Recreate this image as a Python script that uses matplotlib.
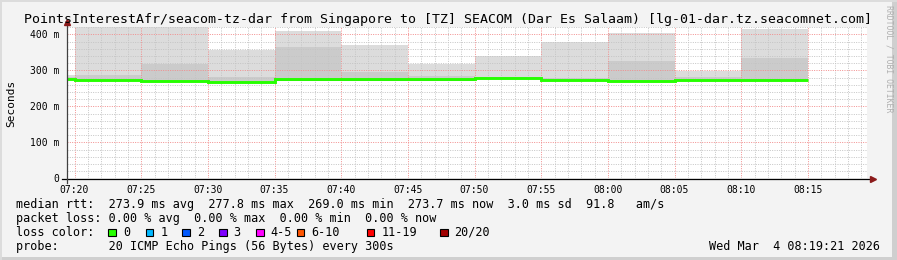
import matplotlib
matplotlib.use("Agg")
import matplotlib.pyplot as plt
from matplotlib.patches import Rectangle
from matplotlib.lines import Line2D
from matplotlib.ticker import MultipleLocator, FixedLocator, FixedFormatter

# ---------------- data (time in minutes after 07:00, values in ms) ----------------
block_edges_min = [15, 20, 25, 30, 35, 40, 45, 50, 55, 60, 65, 70, 75]
median_ms    = [276.5, 274.5, 272.0, 269.0, 276.0, 275.5, 275.0, 277.8, 273.5, 272.0, 272.5, 273.7]
ping_min_ms  = [276.0, 273.5, 268.5, 268.0, 271.0, 272.0, 272.0, 277.0, 273.0, 271.0, 272.0, 273.0]
smoke_mid_ms = [283.0, 287.0, 319.0, 282.0, 366.0, 296.0, 284.0, 282.0, 280.0, 327.0, 283.0, 335.0]
smoke_max_ms = [287.0, 430.0, 430.0, 358.0, 410.0, 370.0, 319.0, 340.0, 380.0, 405.0, 299.0, 415.0]

xtick_minutes = [20, 25, 30, 35, 40, 45, 50, 55, 60, 65, 70, 75]
xtick_labels = ["07:20", "07:25", "07:30", "07:35", "07:40", "07:45",
                "07:50", "07:55", "08:00", "08:05", "08:10", "08:15"]
ytick_values = [0, 100, 200, 300, 400]
ytick_labels = ["0", "100 m", "200 m", "300 m", "400 m"]

title = "PointsInterestAfr/seacom-tz-dar from Singapore to [TZ] SEACOM (Dar Es Salaam) [lg-01-dar.tz.seacomnet.com]"
legend_rows = [
    "median rtt:  273.9 ms avg  277.8 ms max  269.0 ms min  273.7 ms now  3.0 ms sd  91.8   am/s",
    "packet loss: 0.00 % avg  0.00 % max  0.00 % min  0.00 % now",
    "loss color:",
    "probe:       20 ICMP Echo Pings (56 Bytes) every 300s",
]
loss_labels = ["0", "1", "2", "3", "4-5", "6-10", "11-19", "20/20"]
loss_colors = ["#26ff00", "#00b8ff", "#0059ff", "#7e00ff", "#ff00ff", "#ff5500", "#ff0000", "#a10000"]
timestamp = "Wed Mar  4 08:19:21 2026"

# ---------------- layout ----------------
W, H = 897, 260
fig = plt.figure(figsize=(W / 100, H / 100), dpi=100)
fig.patch.set_facecolor("#f3f3f3")

px_left, px_right, px_top, px_bottom = 67, 867, 27.3, 178.4
ax = fig.add_axes([px_left / W, 1 - px_bottom / H, (px_right - px_left) / W, (px_bottom - px_top) / H])
ax.set_facecolor("white")
ax.set_xlim(19.4375, 79.4375)
ax.set_ylim(0, 420)

mono = "DejaVu Sans Mono"

# smoke
ax.stairs(smoke_max_ms, block_edges_min, baseline=ping_min_ms, fill=True,
          color="#dcdcdc", zorder=1, linewidth=0)
ax.stairs(smoke_mid_ms, block_edges_min, baseline=ping_min_ms, fill=True,
          color="#cbcbcb", zorder=1.1, linewidth=0)
ax.stairs(median_ms, block_edges_min, baseline=ping_min_ms, fill=True,
          color="#555555", zorder=1.2, linewidth=0)

# grid
ax.xaxis.set_major_locator(FixedLocator(xtick_minutes))
ax.xaxis.set_major_formatter(FixedFormatter(xtick_labels))
ax.xaxis.set_minor_locator(MultipleLocator(1))
ax.yaxis.set_major_locator(FixedLocator(ytick_values))
ax.yaxis.set_major_formatter(FixedFormatter(ytick_labels))
ax.yaxis.set_minor_locator(MultipleLocator(20))
ax.set_axisbelow(False)
ax.grid(which="minor", color="#c4c4c4", linestyle=(0, (1, 1.4)), linewidth=0.7, zorder=2)
ax.grid(which="major", color="#f28c8c", linestyle=(0, (1, 1.4)), linewidth=0.7, zorder=2.1)

# median line (loss 0 colour)
ax.stairs(median_ms, block_edges_min, baseline=None, color=loss_colors[0],
          linewidth=2.1, zorder=3)

for s in ax.spines.values():
    s.set_visible(False)

ax.tick_params(axis="both", which="both", length=0)
ax.tick_params(axis="x", which="major", labelsize=7, pad=4.5)
ax.tick_params(axis="y", which="major", labelsize=7, pad=5.5)
for lab in ax.get_xticklabels() + ax.get_yticklabels():
    lab.set_family(mono)

# axes lines with arrows (pixel coordinates -> figure fraction)
def fx(x):
    return x / W

def fy(y):
    return 1 - y / H

fig.add_artist(Line2D([fx(62), fx(871)], [fy(178.6), fy(178.6)], color="black", linewidth=0.9))
fig.add_artist(Line2D([fx(66.8), fx(66.8)], [fy(183), fy(22)], color="#404040", linewidth=0.9))
fig.add_artist(Line2D([fx(873)], [fy(178.6)], marker=">", markersize=4.2, color="#8b1a1a",
                      linestyle="none"))
fig.add_artist(Line2D([fx(66.8)], [fy(21.5)], marker="^", markersize=4.2, color="#8b1a1a",
                      linestyle="none"))

# title / labels
fig.text(fx(447.5), fy(19), title, ha="center", va="center", family=mono, fontsize=9.5, color="black")
fig.text(fx(11), fy(103), "Seconds", rotation=90, ha="center", va="center",
         family=mono, fontsize=8, color="black")
fig.text(fx(889), fy(5), "RRDTOOL / TOBI OETIKER", rotation=-90, ha="center", va="top",
         family=mono, fontsize=5.9, color="#b0b0b0")

# legend rows
row_y = [204.3, 218.3, 232.3, 246.3]
for txt, y in zip(legend_rows, row_y):
    fig.text(fx(16), fy(y), txt, ha="left", va="center", family=mono, fontsize=8.5, color="black")

box_x = [108.3, 145.7, 182.3, 219.0, 256.0, 296.7, 366.7, 440.0]
for bx, lab, col in zip(box_x, loss_labels, loss_colors):
    fig.add_artist(Rectangle((fx(bx), fy(236)), 7.5 / W, 7.5 / H, transform=fig.transFigure,
                             facecolor=col, edgecolor="black", linewidth=0.8))
    fig.text(fx(bx + 14.5), fy(232.3), lab, ha="left", va="center", family=mono,
             fontsize=8.5, color="black")

fig.text(fx(880), fy(246.3), timestamp, ha="right", va="center", family=mono,
         fontsize=8.5, color="black")

# 3D frame like rrdtool
fig.add_artist(Line2D([0, 1], [fy(0.5), fy(0.5)], color="#dcdcdc", linewidth=1.4))
fig.add_artist(Line2D([fx(0.5), fx(0.5)], [0, 1], color="#dcdcdc", linewidth=1.4))
fig.add_artist(Rectangle((fx(892), 0), 5 / W, 1, transform=fig.transFigure,
                         facecolor="#cfcfcf", edgecolor="none"))
fig.add_artist(Rectangle((0, 0), 1, 3 / H, transform=fig.transFigure,
                         facecolor="#cfcfcf", edgecolor="none"))

fig.savefig("out.png", dpi=100, facecolor=fig.get_facecolor())
